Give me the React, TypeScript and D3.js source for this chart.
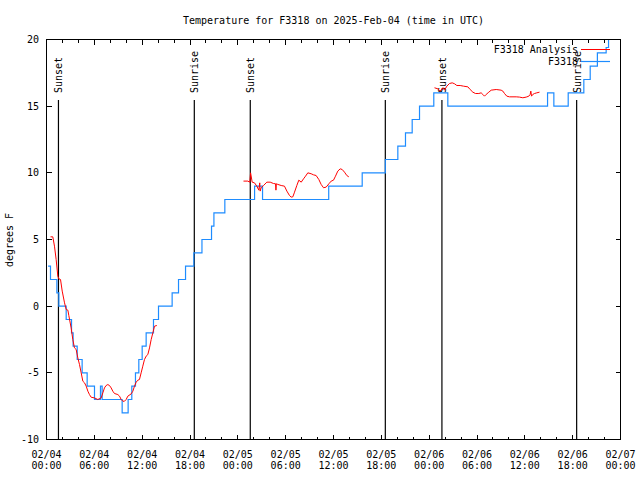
import React from "react";
import * as d3 from "d3";

// ---- data ----
const titleText = "Temperature for F3318 on 2025-Feb-04 (time in UTC)";
const yLabel = "degrees F";
const seriesNames = ["F3318 Analysis", "F3318"];

// x tick labels (every 6 hours, 02/04 00:00 .. 02/07 00:00)
const xTickHours = [0, 6, 12, 18, 24, 30, 36, 42, 48, 54, 60, 66, 72];
const xTickDates = ["02/04", "02/04", "02/04", "02/04", "02/05", "02/05", "02/05", "02/05", "02/06", "02/06", "02/06", "02/06", "02/07"];
const xTickTimes = ["00:00", "06:00", "12:00", "18:00", "00:00", "06:00", "12:00", "18:00", "00:00", "06:00", "12:00", "18:00", "00:00"];
const yTicks = [-10, -5, 0, 5, 10, 15, 20];

// sun events (hours since 02/04 00:00 UTC)
const sunHours = [1.5, 18.54, 25.56, 42.5, 49.6, 66.5];
const sunLabels = ["Sunset", "Sunrise", "Sunset", "Sunrise", "Sunset", "Sunrise"];

// F3318 observations (blue, step changes)
const obsHours = [0.2, 0.5, 1.3, 1.55, 2.47, 3.14, 3.34, 3.85, 4.47, 5.1, 6.02, 6.77, 6.98, 9.49, 10.24, 10.7, 11.16, 11.58, 12.0, 12.5, 13.42, 14.05, 15.76, 16.56, 17.44, 18.48, 19.5, 20.7, 21.0, 22.37, 26.1, 27.1, 35.4, 39.6, 42.5, 44.07, 45.03, 45.87, 46.79, 48.58, 50.34, 62.85, 63.64, 65.44, 67.4, 68.2, 69.1, 70.2, 70.5, 72];
const obsValues = [3, 2, 1, 0, -1, -2, -3, -4, -5, -6, -7, -6, -7, -8, -7, -6, -5, -4, -3, -2, -1, 0, 1, 2, 3, 4, 5, 6, 7, 8, 9, 8, 9, 10, 11, 12, 13, 14, 15, 16, 15, 16, 15, 16, 17, 18, 19, 19.4, 21, 21];

// F3318 Analysis (red), three separate runs
const anaHours1 = [0.5, 0.79, 1.0, 1.21, 1.42, 1.55, 1.76, 1.97, 2.26, 2.47, 2.68, 2.8, 3.09, 3.3, 3.51, 3.72, 3.93, 4.14, 4.35, 4.56, 4.77, 4.98, 5.19, 5.39, 5.6, 6.02, 6.44, 6.86, 7.07, 7.27, 7.48, 7.69, 7.9, 8.11, 8.32, 8.53, 8.95, 9.16, 9.37, 9.58, 9.78, 9.99, 10.2, 10.62, 10.83, 11.04, 11.25, 11.46, 11.66, 11.87, 12.08, 12.29, 12.5, 12.71, 12.92, 13.13, 13.34, 13.55, 13.84];
const anaValues1 = [5.2, 5.2, 4.5, 3.5, 2.25, 2.05, 2.0, 1.13, 0.25, -0.25, -0.3, -0.7, -1.63, -2.5, -3.13, -3.25, -3.88, -4.38, -5.0, -5.63, -5.75, -6.0, -6.38, -6.63, -6.83, -6.88, -7.0, -6.88, -6.5, -6.13, -5.95, -5.88, -5.95, -6.13, -6.38, -6.55, -6.63, -6.75, -7.0, -7.13, -7.13, -7.0, -6.75, -6.58, -6.38, -6.0, -5.7, -5.55, -5.5, -5.0, -4.5, -4.0, -3.75, -3.63, -3.13, -2.5, -2.0, -1.5, -1.45];
const anaHours2 = [24.71, 25.25, 25.5, 25.6, 25.8, 26.09, 26.38, 26.63, 26.75, 26.8, 26.93, 27.22, 27.64, 28.06, 28.47, 28.73, 28.78, 28.83, 29.02, 29.44, 29.85, 30.15, 30.48, 30.69, 30.9, 31.11, 31.4, 31.65, 31.95, 32.24, 32.49, 32.78, 33.2, 33.49, 33.82, 34.16, 34.45, 34.75, 35.08, 35.42, 35.71, 36.0, 36.25, 36.54, 36.84, 37.09, 37.38, 37.67, 37.92];
const anaValues2 = [9.38, 9.38, 9.3, 10.0, 9.3, 9.25, 9.0, 8.7, 9.25, 8.63, 8.88, 9.05, 9.3, 9.3, 9.2, 9.18, 8.7, 9.18, 9.13, 9.05, 9.0, 8.63, 8.3, 8.18, 8.2, 8.55, 9.05, 9.45, 9.3, 9.55, 9.75, 10.0, 9.93, 9.85, 9.8, 9.5, 9.13, 8.88, 8.93, 9.18, 9.38, 9.45, 9.75, 10.13, 10.3, 10.25, 10.05, 9.8, 9.7];
const anaHours3 = [48.67, 49.09, 49.38, 49.71, 49.92, 50.22, 50.55, 50.89, 51.18, 51.47, 51.89, 52.31, 52.85, 53.14, 53.48, 53.81, 54.23, 54.52, 54.73, 54.94, 55.15, 55.48, 55.78, 56.41, 57.03, 57.24, 57.45, 57.74, 58.08, 58.92, 59.33, 59.75, 60.17, 60.5, 60.67, 60.75, 60.84, 61.0, 61.21, 61.5, 61.84];
const anaValues3 = [16.38, 16.3, 16.13, 16.38, 16.2, 16.5, 16.7, 16.75, 16.68, 16.55, 16.55, 16.5, 16.45, 16.25, 16.05, 15.95, 15.95, 16.0, 15.88, 15.75, 15.88, 16.05, 16.2, 16.25, 16.2, 16.13, 15.95, 15.75, 15.7, 15.7, 15.68, 15.63, 15.68, 15.75, 15.88, 16.13, 15.75, 15.88, 15.95, 16.0, 16.05];

const BLUE = "#1e8cff";
const RED = "#ff0000";
const FONT = "'DejaVu Sans Mono', 'Liberation Mono', monospace";

export default function App() {
  const W = 640, H = 480;
  const x = d3.scaleLinear().domain([0, 72]).range([46.5, 620.5]);
  const y = d3.scaleLinear().domain([-10, 20]).range([439.5, 39.5]);
  const [x0, x1] = x.range();
  const [yb, yt] = y.range();

  const zip = (hs: number[], vs: number[]) => hs.map((h, i) => [h, vs[i]] as [number, number]);
  const stepLine = d3.line<[number, number]>().x(d => x(d[0])).y(d => y(d[1])).curve(d3.curveStepAfter);
  const line = d3.line<[number, number]>().x(d => x(d[0])).y(d => y(d[1]));

  const majorX = d3.range(0, 73, 6);
  const minorX = d3.range(0, 73, 2).filter(h => h % 6 !== 0);

  return (
    <svg width={W} height={H} style={{ position: "absolute", left: 0, top: 0, background: "#fff" }} fontFamily={FONT} fontSize={10}>
      <defs>
        <clipPath id="plotclip">
          <rect x={x0} y={yt} width={x1 - x0} height={yb - yt} />
        </clipPath>
      </defs>
      <rect x={0} y={0} width={W} height={H} fill="#fff" />
      <text x={(x0 + x1) / 2} y={24} textAnchor="middle" fill="#000">{titleText}</text>

      {/* ticks */}
      <g stroke="#000" strokeWidth={1} shapeRendering="crispEdges">
        {majorX.map(h => (
          <g key={"mx" + h}>
            <line x1={x(h)} x2={x(h)} y1={yb} y2={yb - 5} />
            <line x1={x(h)} x2={x(h)} y1={yt} y2={yt + 5} />
          </g>
        ))}
        {minorX.map(h => (
          <g key={"nx" + h}>
            <line x1={x(h)} x2={x(h)} y1={yb} y2={yb - 3} />
            <line x1={x(h)} x2={x(h)} y1={yt} y2={yt + 3} />
          </g>
        ))}
        {yTicks.map(v => (
          <g key={"y" + v}>
            <line x1={x0} x2={x0 + 5} y1={y(v)} y2={y(v)} />
            <line x1={x1} x2={x1 - 5} y1={y(v)} y2={y(v)} />
          </g>
        ))}
      </g>

      {/* y tick labels */}
      {yTicks.map(v => (
        <text key={"yl" + v} x={39} y={y(v) + 3.5} textAnchor="end" fill="#000">{v}</text>
      ))}
      {/* x tick labels */}
      {xTickHours.map((h, i) => (
        <g key={"xl" + i}>
          <text x={x(h)} y={458} textAnchor="middle" fill="#000">{xTickDates[i]}</text>
          <text x={x(h)} y={469} textAnchor="middle" fill="#000">{xTickTimes[i]}</text>
        </g>
      ))}
      <text transform={`translate(12.5,240) rotate(-90)`} textAnchor="middle" fill="#000">{yLabel}</text>

      {/* sun lines */}
      {sunHours.map((h, i) => (
        <g key={"sun" + i}>
          <line x1={x(h)} x2={x(h)} y1={100} y2={yb} stroke="#000" strokeWidth={1.2} />
          <text transform={`translate(${x(h) + 4},93) rotate(-90)`} textAnchor="start" fill="#000">{sunLabels[i]}</text>
        </g>
      ))}

      {/* data */}
      <g clipPath="url(#plotclip)" fill="none">
        <path d={stepLine(zip(obsHours, obsValues)) || ""} stroke={BLUE} strokeWidth={1.2} />
        <path d={line(zip(anaHours1, anaValues1)) || ""} stroke={RED} strokeWidth={1} />
        <path d={line(zip(anaHours2, anaValues2)) || ""} stroke={RED} strokeWidth={1} />
        <path d={line(zip(anaHours3, anaValues3)) || ""} stroke={RED} strokeWidth={1} />
      </g>

      {/* legend */}
      <text x={578} y={53} textAnchor="end" fill="#000">{seriesNames[0]}</text>
      <line x1={581} x2={610} y1={49.5} y2={49.5} stroke={RED} strokeWidth={1} />
      <text x={578} y={65} textAnchor="end" fill="#000">{seriesNames[1]}</text>
      <line x1={581} x2={610} y1={61.5} y2={61.5} stroke={BLUE} strokeWidth={1.2} />

      {/* frame */}
      <rect x={x0} y={yt} width={x1 - x0} height={yb - yt} fill="none" stroke="#000" strokeWidth={1} shapeRendering="crispEdges" />
    </svg>
  );
}
